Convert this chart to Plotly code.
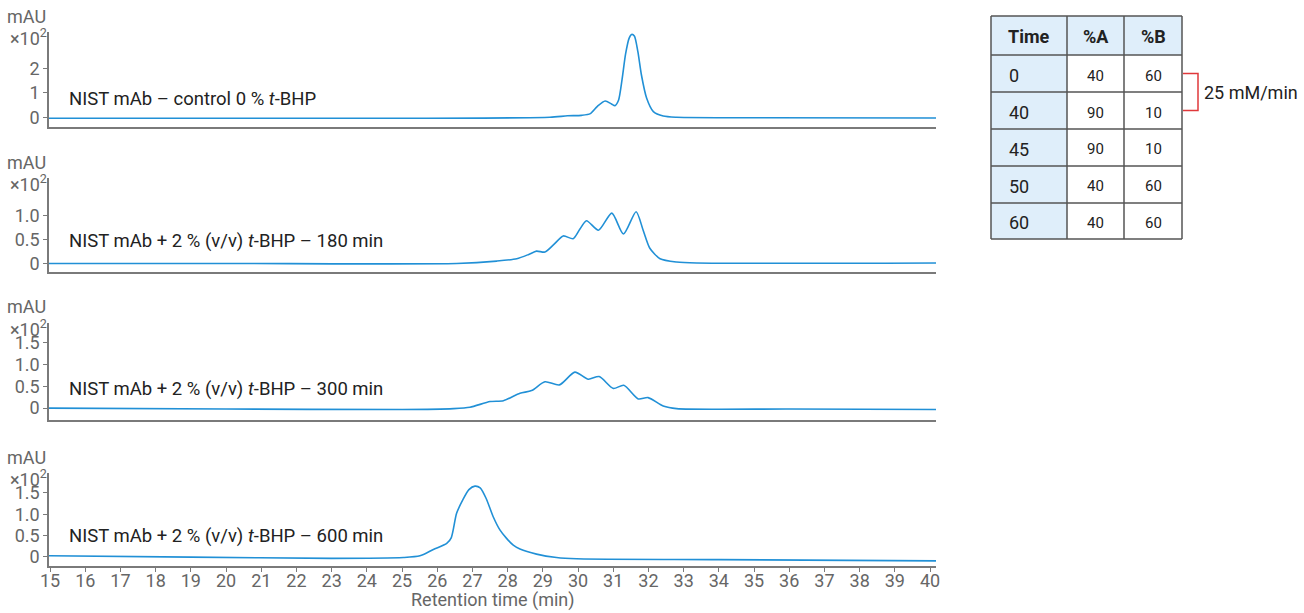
import plotly.graph_objects as go

W, H = 1304, 613

# ---------------- data ----------------
# Panel 1: control 0 % t-BHP  (x10^2 mAU)
t_ctrl = [14.97, 20.0, 25.0, 29.2, 29.7, 30.1, 30.35, 30.55, 30.77, 30.95, 31.05, 31.15, 31.25, 31.35,
          31.45, 31.52, 31.6, 31.7, 31.8, 31.95, 32.14, 32.42, 32.8, 35.3, 40.17]
y_ctrl = [-0.04, -0.04, -0.04, 0.0, 0.06, 0.08, 0.15, 0.45, 0.67, 0.55, 0.48, 0.7, 1.55, 2.6,
          3.25, 3.41, 3.35, 2.7, 1.75, 0.78, 0.23, 0.05, 0.0, -0.02, -0.03]

# Panel 2: 2 % t-BHP, 180 min
t_180 = [14.97, 20.0, 26.55, 27.69, 28.26, 28.6, 28.82, 29.06, 29.3, 29.58, 29.86, 30.05, 30.24, 30.58,
         30.96, 31.29, 31.65, 31.85, 32.04, 32.33, 32.8, 33.37, 40.17]
y_180 = [0.0, 0.0, 0.0, 0.05, 0.1, 0.19, 0.26, 0.24, 0.39, 0.58, 0.52, 0.72, 0.9, 0.70,
         1.06, 0.62, 1.09, 0.70, 0.32, 0.1, 0.03, 0.01, 0.01]

# Panel 3: 2 % t-BHP, 300 min
t_300 = [14.97, 20.0, 25.0, 26.46, 26.93, 27.5, 27.88, 28.35, 28.68, 29.06, 29.47, 29.91, 30.29,
         30.6, 31.0, 31.3, 31.71, 31.99, 32.42, 32.8, 36.0, 40.17]
y_300 = [0.0, -0.02, -0.03, -0.01, 0.02, 0.15, 0.17, 0.34, 0.4, 0.6, 0.53, 0.82, 0.66,
         0.72, 0.45, 0.52, 0.21, 0.24, 0.05, -0.01, -0.02, -0.03]

# Panel 4: 2 % t-BHP, 600 min
t_600 = [14.97, 19.0, 23.0, 25.04, 25.51, 25.89, 26.27, 26.4, 26.55, 26.74, 26.9, 27.07, 27.22, 27.39,
         27.59, 27.78, 27.97, 28.16, 28.35, 28.82, 29.39, 29.96, 34.0, 40.17]
y_600 = [0.02, -0.01, -0.04, -0.02, 0.02, 0.17, 0.31, 0.45, 1.02, 1.36, 1.58, 1.66, 1.62, 1.37,
         0.94, 0.63, 0.43, 0.27, 0.18, 0.06, -0.02, -0.05, -0.07, -0.1]

panel_labels = [
    "NIST mAb \u2013 control 0 % <i>t</i>-BHP",
    "NIST mAb + 2 % (v/v) <i>t</i>-BHP \u2013 180 min",
    "NIST mAb + 2 % (v/v) <i>t</i>-BHP \u2013 300 min",
    "NIST mAb + 2 % (v/v) <i>t</i>-BHP \u2013 600 min",
]
y_tickvals = [[0, 1, 2], [0, 0.5, 1.0], [0, 0.5, 1.0, 1.5], [0, 0.5, 1.0, 1.5]]
y_ticktext = [["0", "1", "2"], ["0", "0.5", "1.0"], ["0", "0.5", "1.0", "1.5"], ["0", "0.5", "1.0", "1.5"]]
y_ranges = [[-0.40, 3.51], [-0.18, 1.80], [-0.27, 1.94], [-0.22, 1.97]]
x_ticks = list(range(15, 41))

# gradient table
tbl_header = ["Time", "%A", "%B"]
tbl_time = ["0", "40", "45", "50", "60"]
tbl_A = ["40", "90", "90", "40", "40"]
tbl_B = ["60", "10", "10", "60", "60"]
gradient_label = "25 mM/min"

# ---------------- layout helpers ----------------
def fx(px):
    return px / W

def fy(py):
    return 1 - py / H

FONT = "Roboto"
BLUE = "#2190d6"
AXC = "#7a7a7a"
TXT = "#666666"
DARK = "#222222"

# panel pixel boxes (top, bottom)
boxes = [(32, 127), (178, 272), (323, 420), (473, 566)]
x_left, x_right = 49, 936

series = [(t_ctrl, y_ctrl), (t_180, y_180), (t_300, y_300), (t_600, y_600)]

fig = go.Figure()
layout = dict(
    width=W, height=H,
    margin=dict(l=0, r=0, t=0, b=0, autoexpand=False),
    paper_bgcolor="white", plot_bgcolor="white",
    showlegend=False,
    font=dict(family=FONT, size=18, color=TXT),
)
annotations = []
shapes = []

for i, ((t, y), (top, bot)) in enumerate(zip(series, boxes)):
    n = i + 1
    xa = "x" if n == 1 else f"x{n}"
    ya = "y" if n == 1 else f"y{n}"
    fig.add_trace(go.Scatter(x=t, y=y, mode="lines", xaxis=xa, yaxis=ya,
                             line=dict(color=BLUE, width=1.6, shape="spline", smoothing=0.7),
                             hoverinfo="skip"))
    last = (n == 4)
    layout["xaxis" if n == 1 else f"xaxis{n}"] = dict(
        domain=[fx(x_left), fx(x_right)], anchor=ya, range=[14.97, 40.17], automargin=False,
        showline=True, linecolor=AXC, linewidth=1.5, showgrid=False, zeroline=False,
        ticks="outside" if last else "", ticklen=4, tickcolor=AXC, tickwidth=1.2,
        tickvals=x_ticks if last else [], showticklabels=last, ticklabelstandoff=-6 if last else 0,
        tickfont=dict(family=FONT, size=18, color=TXT),
    )
    layout["yaxis" if n == 1 else f"yaxis{n}"] = dict(
        domain=[fy(bot), fy(top)], anchor=xa, range=y_ranges[i], automargin=False,
        showline=True, linecolor=AXC, linewidth=1.5, showgrid=False, zeroline=False,
        ticks="outside", ticklen=4, tickcolor=AXC, tickwidth=1.2,
        tickvals=y_tickvals[i], ticktext=y_ticktext[i],
        tickfont=dict(family=FONT, size=18, color=TXT),
    )
    annotations.append(dict(xref="paper", yref="paper", x=fx(67), y=fy([99, 241, 389, 536][i]),
                            text=panel_labels[i], showarrow=False, xanchor="left", yanchor="middle",
                            font=dict(family=FONT, size=18.5, color=DARK)))
    annotations.append(dict(xref="paper", yref="paper", x=fx(48), y=fy(top - 16),
                            text="mAU", showarrow=False, xanchor="right", yanchor="middle",
                            font=dict(family=FONT, size=18, color=TXT)))
    annotations.append(dict(xref="paper", yref="paper", x=fx(49), y=fy(top + 5),
                            text="\u00d710<sup>2</sup>", showarrow=False, xanchor="right", yanchor="middle",
                            font=dict(family=FONT, size=18, color=TXT)))

annotations.append(dict(xref="paper", yref="paper", x=fx((x_left + x_right) / 2), y=fy(600),
                        text="Retention time (min)", showarrow=False, xanchor="center", yanchor="middle",
                        font=dict(family=FONT, size=18, color=TXT)))

# gradient table (drawn with shapes + annotations)
LB = "#dfeefa"
LINEC = "#555555"
col_x = [991, 1067, 1124, 1182]
row_y = [16, 55, 92, 129, 166, 203, 239]
shapes.append(dict(type="rect", xref="paper", yref="paper", x0=fx(col_x[0]), x1=fx(col_x[3]),
                   y0=fy(row_y[1]), y1=fy(row_y[0]), fillcolor=LB, line=dict(width=0), layer="below"))
shapes.append(dict(type="rect", xref="paper", yref="paper", x0=fx(col_x[0]), x1=fx(col_x[1]),
                   y0=fy(row_y[-1]), y1=fy(row_y[1]), fillcolor=LB, line=dict(width=0), layer="below"))
for cx in col_x:
    shapes.append(dict(type="line", xref="paper", yref="paper", x0=fx(cx), x1=fx(cx),
                       y0=fy(row_y[0]), y1=fy(row_y[-1]), line=dict(color=LINEC, width=1.5)))
for ry in row_y:
    shapes.append(dict(type="line", xref="paper", yref="paper", x0=fx(col_x[0]), x1=fx(col_x[-1]),
                       y0=fy(ry), y1=fy(ry), line=dict(color=LINEC, width=1.5)))
for j, h in enumerate(tbl_header):
    annotations.append(dict(xref="paper", yref="paper", x=fx((col_x[j] + col_x[j + 1]) / 2),
                            y=fy((row_y[0] + row_y[1]) / 2 + 1), text=f"<b>{h}</b>", showarrow=False,
                            xanchor="center", yanchor="middle", font=dict(family=FONT, size=18, color=DARK)))
for r in range(5):
    yc = fy((row_y[r + 1] + row_y[r + 2]) / 2 + 2)
    annotations.append(dict(xref="paper", yref="paper", x=fx(1007), y=yc, text=tbl_time[r],
                            showarrow=False, xanchor="left", yanchor="middle",
                            font=dict(family=FONT, size=18, color=DARK)))
    annotations.append(dict(xref="paper", yref="paper", x=fx((col_x[1] + col_x[2]) / 2), y=yc,
                            text=tbl_A[r], showarrow=False, xanchor="center", yanchor="middle",
                            font=dict(family=FONT, size=15, color=DARK)))
    annotations.append(dict(xref="paper", yref="paper", x=fx((col_x[2] + col_x[3]) / 2), y=yc,
                            text=tbl_B[r], showarrow=False, xanchor="center", yanchor="middle",
                            font=dict(family=FONT, size=15, color=DARK)))

# bracket
shapes.append(dict(type="path", xref="paper", yref="paper",
                   path=f"M {fx(1183)},{fy(73.5)} L {fx(1198)},{fy(73.5)} L {fx(1198)},{fy(110.5)} L {fx(1183)},{fy(110.5)}",
                   line=dict(color="#e0383b", width=1.5)))
annotations.append(dict(xref="paper", yref="paper", x=fx(1202), y=fy(92), text=gradient_label,
                        showarrow=False, xanchor="left", yanchor="middle",
                        font=dict(family=FONT, size=18, color=DARK)))

layout["annotations"] = annotations
layout["shapes"] = shapes
fig.update_layout(**layout)
fig.write_html("out.html", config={"displayModeBar": False},
               post_script="document.body.style.margin='0px';document.body.style.overflow='hidden';")
